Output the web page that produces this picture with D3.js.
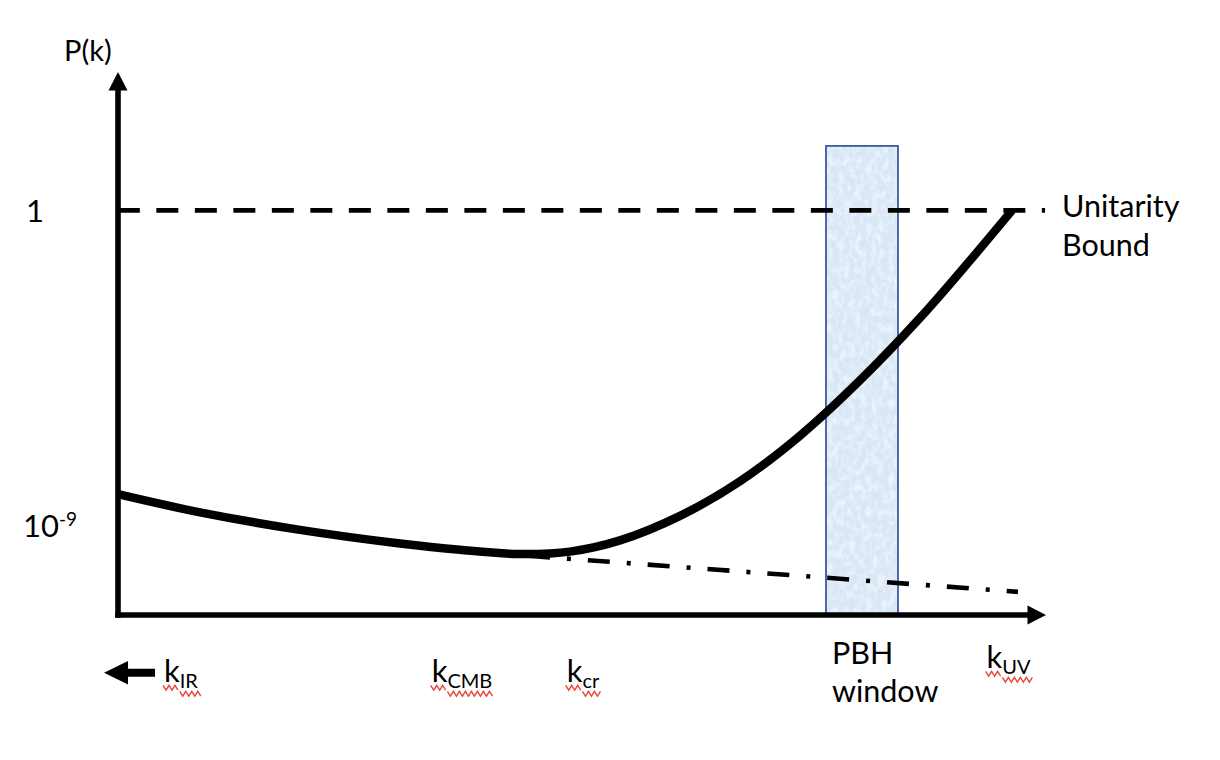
<!DOCTYPE html>
<html>
<head>
<meta charset="utf-8">
<script src="https://cdn.jsdelivr.net/npm/d3@7"></script>
<style>
  html, body { margin: 0; padding: 0; background: #ffffff; }
  svg { display: block; }
  text { font-family: Lato, "Open Sans", sans-serif; fill: #000; }
</style>
</head>
<body>
<svg id="chart" width="1220" height="760"></svg>
<script>
// ---------------- data (x = log k in arbitrary units, y = log10 P) ----------------
const curveLogK = [0, 8.84, 19.61, 30.39, 36.85, 43.32, 48.71, 54.09, 60.56, 67.03, 73.49, 79.96, 86.42, 91.81, 96.34];
const curveLogP = [-8.10, -8.62, -9.12, -9.51, -9.69, -9.81, -9.74, -9.42, -8.72, -7.73, -6.43, -4.85, -3.07, -1.43, 0];

const extrapLogK = [44.18, 96.98];
const extrapLogP = [-9.86, -10.89];

const unitarityLogP = 0;
const unitarityRange = [0.2, 99.9];

const pbhWindow = [76.29, 84.05];
const pbhTop = 1.84;

const yTickValues = [0, -9];
const yTickBase = ["1", "10"];
const yTickSup = ["", "-9"];

const kTickValues = [4.96, 33.8, 48.35, 93.6];
const kTickSubs = ["IR", "CMB", "cr", "UV"];
const kTickRaise = [0, 0, 0, 1];

const xDomain = [0, 100];
const yDomain = [-11.55, 3.95];

// ---------------- setup ----------------
const svg = d3.select("#chart");
const x = d3.scaleLinear().domain(xDomain).range([118, 1046]);
const y = d3.scaleLinear().domain(yDomain).range([615, 72]);

const defs = svg.append("defs");
const filt = defs.append("filter").attr("id", "tex").attr("x", 0).attr("y", 0).attr("width", 1).attr("height", 1);
filt.append("feTurbulence").attr("type", "fractalNoise").attr("baseFrequency", "0.18 0.12").attr("numOctaves", 4).attr("seed", 11).attr("result", "n");
filt.append("feColorMatrix").attr("in", "n").attr("type", "matrix")
  .attr("values", "0 0 0 0 1  0 0 0 0 1  0 0 0 0 1  0 0 0 2.6 -1.0").attr("result", "w");
filt.append("feComposite").attr("in", "w").attr("in2", "SourceGraphic").attr("operator", "in");

// ---------------- PBH window ----------------
const px0 = x(pbhWindow[0]), px1 = x(pbhWindow[1]);
const rectAttrs = sel => sel.attr("x", px0).attr("y", y(pbhTop))
  .attr("width", px1 - px0).attr("height", y(yDomain[0]) - y(pbhTop));
svg.append("rect").call(rectAttrs).attr("fill", "#d8e6f6");
svg.append("rect").call(rectAttrs).attr("fill", "#fff").attr("opacity", 0.55).attr("filter", "url(#tex)");
svg.append("rect").call(rectAttrs).attr("fill", "none").attr("stroke", "#3d5c9c").attr("stroke-width", 1.8);

// ---------------- unitarity bound ----------------
svg.append("line")
  .attr("x1", x(unitarityRange[0])).attr("x2", x(unitarityRange[1]))
  .attr("y1", y(unitarityLogP)).attr("y2", y(unitarityLogP))
  .attr("stroke", "#000").attr("stroke-width", 4.8)
  .attr("stroke-dasharray", "22,16.5").attr("stroke-dashoffset", 2);

// ---------------- extrapolation (dash-dot) ----------------
const line = d3.line().x(d => x(d[0])).y(d => y(d[1]));
svg.append("path")
  .attr("d", line(extrapLogK.map((k, i) => [k, extrapLogP[i]])))
  .attr("fill", "none").attr("stroke", "#000").attr("stroke-width", 4.6)
  .attr("stroke-dasharray", "22,17,4,17");

// ---------------- main curve ----------------
const curveLine = d3.line().x(d => x(d[0])).y(d => y(d[1])).curve(d3.curveCatmullRom.alpha(0.5));
svg.append("path")
  .attr("d", curveLine(curveLogK.map((k, i) => [k, curveLogP[i]])))
  .attr("fill", "none").attr("stroke", "#000").attr("stroke-width", 8.5)
  .attr("stroke-linecap", "butt");

// ---------------- axes ----------------
const ax = x(xDomain[0]), ay = y(yDomain[0]);
const yTop = y(yDomain[1]), xEnd = x(xDomain[1]);
svg.append("line").attr("x1", ax).attr("x2", ax).attr("y1", ay + 2.8).attr("y2", yTop + 16)
  .attr("stroke", "#000").attr("stroke-width", 5.6);
svg.append("path").attr("d", `M${ax},${yTop}L${ax + 9.5},${yTop + 18.5}L${ax - 9.5},${yTop + 18.5}Z`).attr("fill", "#000");
svg.append("line").attr("x1", ax - 2.8).attr("x2", xEnd - 16).attr("y1", ay).attr("y2", ay)
  .attr("stroke", "#000").attr("stroke-width", 5.6);
svg.append("path").attr("d", `M${xEnd},${ay}L${xEnd - 18.5},${ay - 9.5}L${xEnd - 18.5},${ay + 9.5}Z`).attr("fill", "#000");

// ---------------- y labels ----------------
svg.append("text").attr("x", 64).attr("y", 61).attr("font-size", 29).text("P(k)");
yTickValues.forEach((v, i) => {
  const t = svg.append("text").attr("x", i === 0 ? 26 : 23).attr("y", y(v) + 11.5).attr("font-size", 31);
  t.append("tspan").text(yTickBase[i]);
  if (yTickSup[i]) t.append("tspan").attr("dy", -11.5).attr("font-size", 19).text(yTickSup[i]);
});

svg.append("text").attr("x", 1062).attr("y", 217).attr("font-size", 30.5).text("Unitarity");
svg.append("text").attr("x", 1062).attr("y", 256).attr("font-size", 30.5).text("Bound");

svg.append("text").attr("x", px0 + 6).attr("y", 664).attr("font-size", 30.5).text("PBH");
svg.append("text").attr("x", px0 + 6).attr("y", 702).attr("font-size", 30.5).text("window");

// ---------------- k labels with spell-check squiggles ----------------
function squiggle(x0, x1, cy) {
  const pts = [];
  let up = true;
  for (let xx = x0; xx <= x1 + 0.01; xx += 3) { pts.push([xx, cy + (up ? -2.4 : 2.4)]); up = !up; }
  return d3.line()(pts);
}
kTickValues.forEach((v, i) => {
  const x0 = x(v);
  const base = kTickRaise[i] ? 668.3 : 682.3;
  const k = svg.append("text").attr("x", x0).attr("y", base).attr("font-size", 31).text("k");
  const kw = k.node().getComputedTextLength();
  const s = svg.append("text").attr("x", x0 + kw).attr("y", base + 6).attr("font-size", 20).text(kTickSubs[i]);
  const sw = s.node().getComputedTextLength();
  svg.append("path").attr("d", squiggle(x0 - 1, x0 + kw, base + 5.5))
    .attr("fill", "none").attr("stroke", "#e8473b").attr("stroke-width", 1.4);
  svg.append("path").attr("d", squiggle(x0 + kw, x0 + kw + sw + 3, base + 11.5))
    .attr("fill", "none").attr("stroke", "#e8473b").attr("stroke-width", 1.4);
  if (i === 0) {
    const cy = base - 9.6, tip = x0 - 60, hb = x0 - 36, end = x0 - 9;
    svg.append("path")
      .attr("d", `M${tip},${cy}L${hb},${cy - 11.7}L${hb},${cy - 4}L${end},${cy - 4}L${end},${cy + 4}L${hb},${cy + 4}L${hb},${cy + 11.7}Z`)
      .attr("fill", "#000");
  }
});
</script>
</body>
</html>
